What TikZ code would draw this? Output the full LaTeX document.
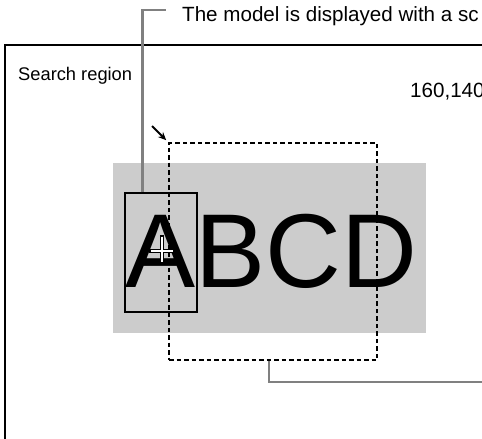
\documentclass[tikz,border=0pt]{standalone}
\usepackage{fontspec}
\setmainfont{Liberation Sans}
\usetikzlibrary{calc,arrows.meta}
\tikzset{
  lbl/.style={inner sep=0pt, anchor=base west, font=\fontsize{18.3}{20}\selectfont},
  biglbl/.style={inner sep=0pt, anchor=base west, font=\fontsize{20.6}{22}\selectfont},
  graylink/.style={draw=black!50, line width=2.4pt},
  dashbox/.style={draw, dash pattern=on 4.5pt off 3pt, line width=1.6pt, inner sep=0pt},
  shadebox/.style={fill=black!20, inner sep=0pt},
  modelbox/.style={draw, line width=1.3pt, inner sep=0pt},
}
\begin{document}
\begin{tikzpicture}[x=1pt,y=-1pt]
\useasboundingbox (0,0) rectangle (482,439);
\clip (0,0) rectangle (482,439);
% shaded background of the image
\node[shadebox, minimum width=313pt, minimum height=170pt] (shade) at (269.5,248) {};
% outer search region frame
\draw[line width=2pt] (5,460) -- (5,45) -- (500,45);
% big letters
\node[inner sep=0pt, anchor=base west, font=\fontsize{105}{110}\selectfont] (abcd) at (125.5,287) {ABCD};
% model box
\node[modelbox, minimum width=72pt, minimum height=119pt] (model) at (161,252.5) {};
% dashed search box
\node[dashbox, minimum width=208pt, minimum height=217pt] (search) at (273,251.5) {};
% crosshair
\coordinate (cx) at (162,251);
\draw[line width=4.6pt, line cap=butt] (149,251) -- (174,251) (162,235) -- (162,263);
\draw[white, line width=2pt] (150.5,251) -- (172.5,251) (162,236.5) -- (162,261.5);
% connectors
\coordinate (c1) at (166,10);
\draw[graylink] ($(model.north west)+(18,0)$) |- (c1);
\coordinate (c2) at (500,382);
\draw[graylink] ($(search.south west)+(101,0)$) |- (c2);
\coordinate (a0) at (152,126);
\draw[-{Stealth[length=8pt,width=7pt]}, line width=1.9pt] (a0) -- ($(search.north west)+(-2,-2)$);
% texts
\node[biglbl] (t1) at (182,21) {The model is displayed with a sc};
\node[lbl] (t2) at (18,80) {Search region};
\node[biglbl] (t3) at (410,97) {160,140};
\end{tikzpicture}
\end{document}
